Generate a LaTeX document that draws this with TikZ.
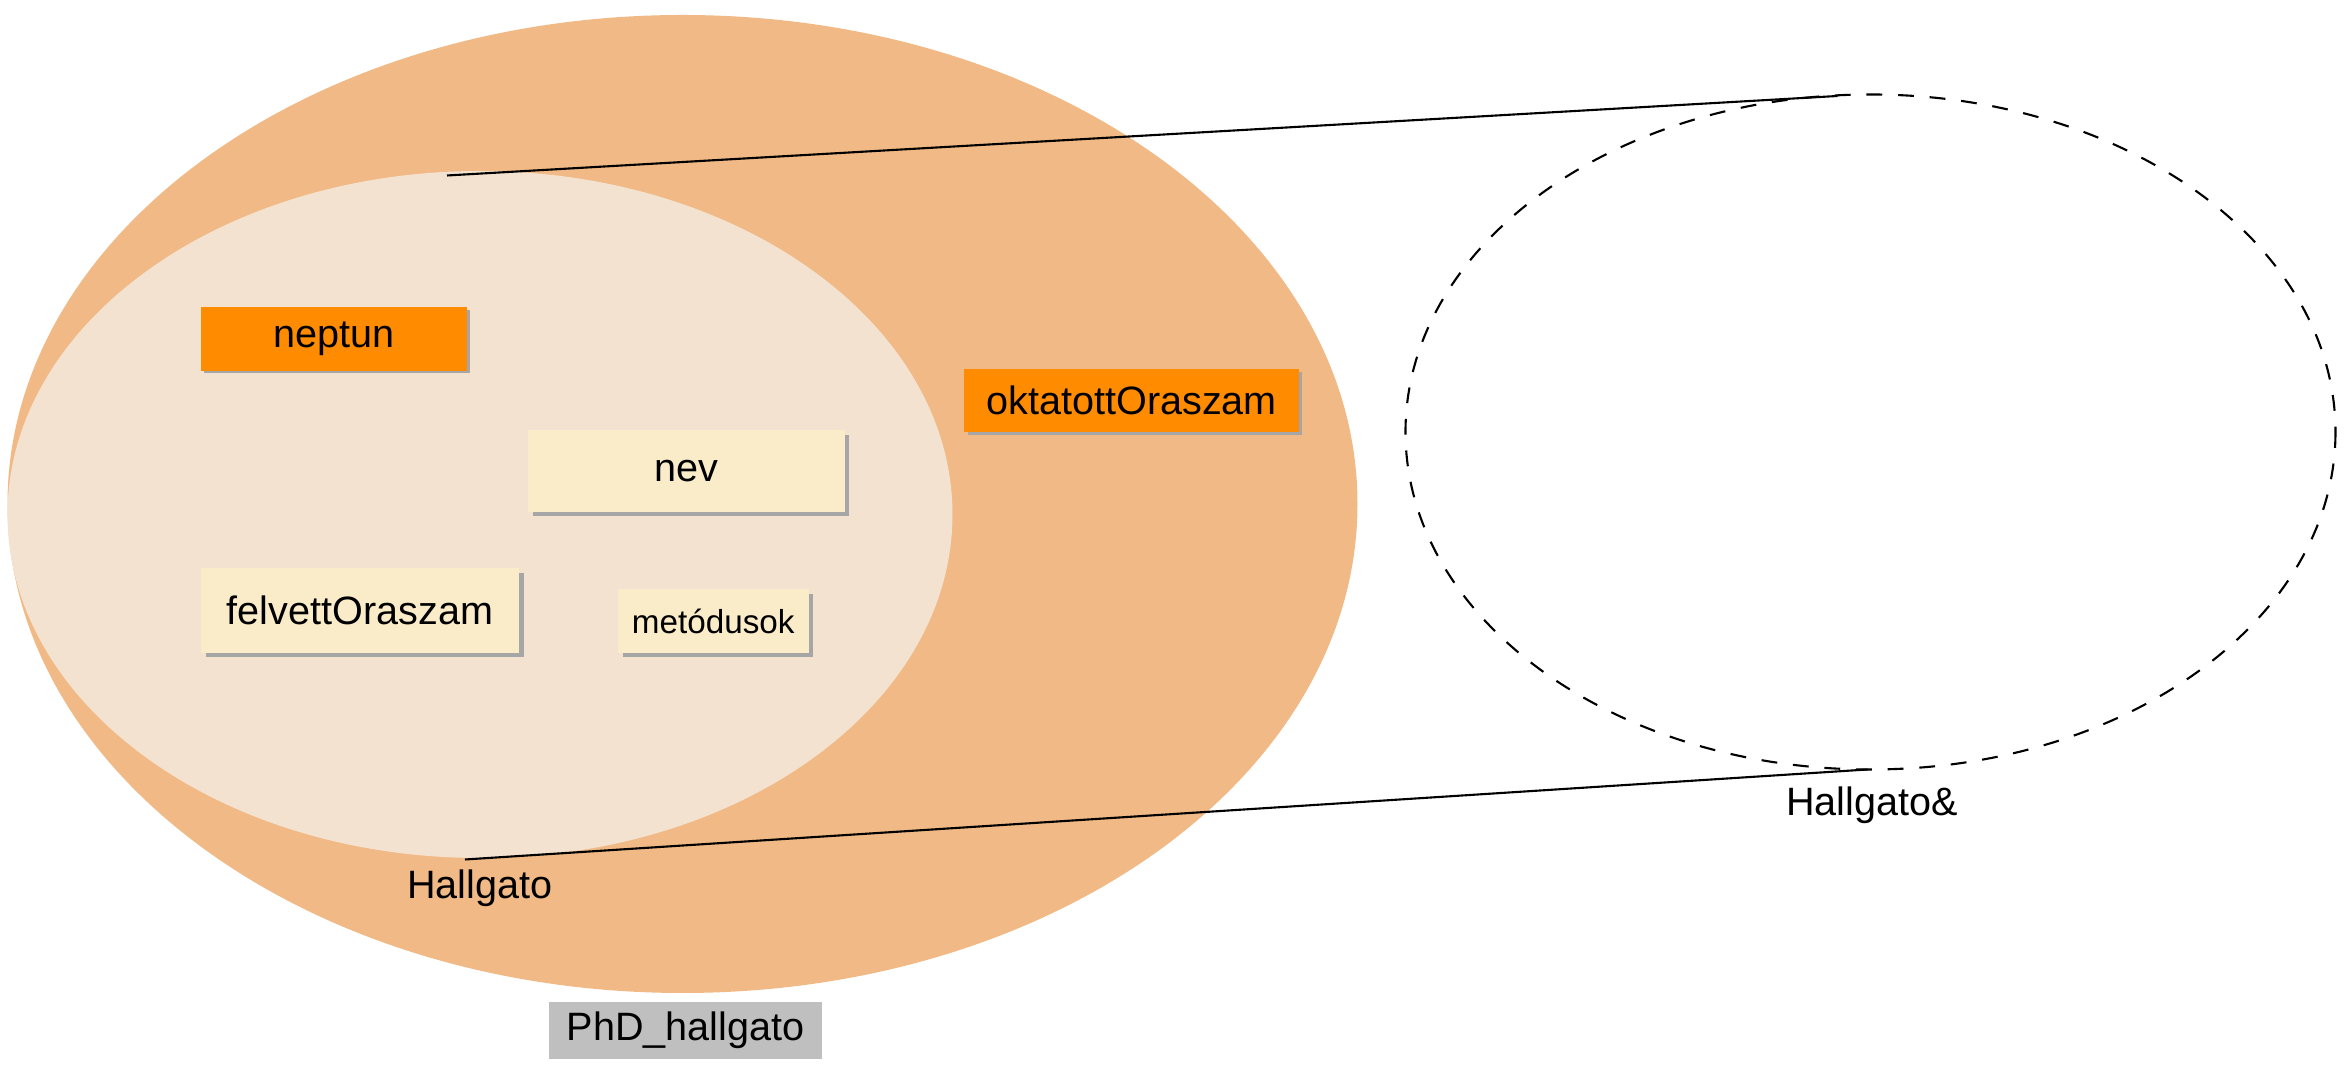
\documentclass[tikz,border=0pt]{standalone}
\usepackage{fontspec}
\setmainfont{Liberation Sans}
\begin{document}
\begin{tikzpicture}[x=0.01cm,y=-0.01cm,
  attr/.style={draw=none,minimum height=#1,inner sep=0pt,font=\fontsize{7.5}{9}\selectfont},
  orangebox/.style={attr=0.42cm,fill={rgb,255:red,255;green,140;blue,0}},
  creambox/.style={attr=0.54cm,fill={rgb,255:red,250;green,236;blue,200}},
  shadowbox/.style={fill=black!35,draw=none},
  lbl/.style={font=\fontsize{7.5}{9}\selectfont,inner sep=1pt}]
\useasboundingbox (0,0) rectangle (1568,716);
\fill[fill={rgb,255:red,241;green,185;blue,133}] (455,336) ellipse [x radius=450,y radius=326];
\fill[fill={rgb,255:red,243;green,226;blue,208}] (320,343) ellipse [x radius=315,y radius=229];
\draw[dashed,thin] (1247,288) ellipse [x radius=310,y radius=225];
\coordinate (a1) at (298,117); \coordinate (a2) at (1225,64);
\coordinate (b1) at (310,573); \coordinate (b2) at (1245,513);
\draw[thin] (a1) -- (a2);
\draw[thin] (b1) -- (b2);
% boxes with shadows
\fill[shadowbox] (136,207) rectangle (313,249);
\node[orangebox,minimum width=1.77cm] (neptun) at (222.5,226) {neptun};
\fill[shadowbox] (645,248) rectangle (868,290);
\node[orangebox,minimum width=2.23cm] (okt) at (754.5,267) {oktatottOraszam};
\fill[shadowbox] (355,290) rectangle (566,344);
\node[creambox,minimum width=2.11cm] (nev) at (457.5,314) {nev};
\fill[shadowbox] (137,382) rectangle (349,438);
\node[creambox,minimum width=2.12cm,minimum height=0.56cm] (felv) at (240,407) {felvettOraszam};
\fill[shadowbox] (415,396) rectangle (542,438);
\node[creambox,minimum width=1.27cm,minimum height=0.42cm,font=\fontsize{6.3}{8}\selectfont] (met) at (475.5,414) {metódusok};
\node[lbl] (hall) at (320,592) {Hallgato};
\node[lbl] (hallref) at (1248,537) {Hallgato\&};
\node[fill=black!25,minimum width=1.82cm,minimum height=0.38cm,inner sep=0pt,font=\fontsize{7.5}{9}\selectfont] (phd) at (457,687) {PhD\_hallgato};
\end{tikzpicture}
\end{document}
